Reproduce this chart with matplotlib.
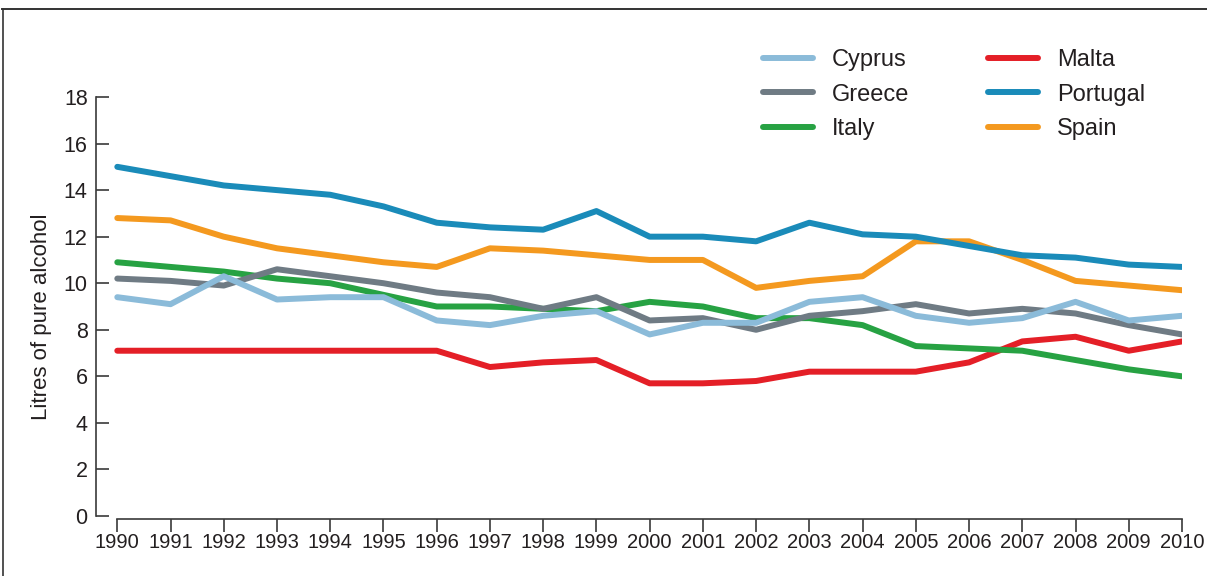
"""
Consumo de alcohol puro por adulto (litros), países del sur de Europa 1990-2010.
"""

import matplotlib
matplotlib.use("Agg")
import matplotlib.pyplot as plt
from matplotlib.lines import Line2D

FONT = ["Liberation Sans", "DejaVu Sans"]
plt.rcParams["font.family"] = FONT

COLOR_INK = "#231f20"
COLOR_AXIS = "#3a3a3a"

years = list(range(1990, 2011))

cyprus = [9.4, 9.1, 10.3, 9.3, 9.4, 9.4, 8.4, 8.2, 8.6, 8.8, 7.8,
          8.3, 8.3, 9.2, 9.4, 8.6, 8.3, 8.5, 9.2, 8.4, 8.6]
greece = [10.2, 10.1, 9.9, 10.6, 10.3, 10.0, 9.6, 9.4, 8.9, 9.4, 8.4,
          8.5, 8.0, 8.6, 8.8, 9.1, 8.7, 8.9, 8.7, 8.2, 7.8]
italy = [10.9, 10.7, 10.5, 10.2, 10.0, 9.5, 9.0, 9.0, 8.9, 8.8, 9.2,
         9.0, 8.5, 8.5, 8.2, 7.3, 7.2, 7.1, 6.7, 6.3, 6.0]
malta = [7.1, 7.1, 7.1, 7.1, 7.1, 7.1, 7.1, 6.4, 6.6, 6.7, 5.7,
         5.7, 5.8, 6.2, 6.2, 6.2, 6.6, 7.5, 7.7, 7.1, 7.5]
portugal = [15.0, 14.6, 14.2, 14.0, 13.8, 13.3, 12.6, 12.4, 12.3, 13.1, 12.0,
            12.0, 11.8, 12.6, 12.1, 12.0, 11.6, 11.2, 11.1, 10.8, 10.7]
spain = [12.8, 12.7, 12.0, 11.5, 11.2, 10.9, 10.7, 11.5, 11.4, 11.2, 11.0,
         11.0, 9.8, 10.1, 10.3, 11.8, 11.8, 11.0, 10.1, 9.9, 9.7]

series = [
    ("Cyprus", cyprus, "#8bbbd9"),
    ("Greece", greece, "#6f7b84"),
    ("Italy", italy, "#27a243"),
    ("Malta", malta, "#e41f27"),
    ("Portugal", portugal, "#1a8bb9"),
    ("Spain", spain, "#f4991f"),
]
# orden de dibujo (de atrás hacia adelante) según la figura original
draw_order = ["Malta", "Italy", "Greece", "Cyprus", "Spain", "Portugal"]

W, H = 1207, 576
fig = plt.figure(figsize=(W / 100, H / 100), dpi=100)
ax = fig.add_axes([96 / W, (H - 516) / H, 1086 / W, 419 / H])

lookup = {name: (vals, col) for name, vals, col in series}
for name in draw_order:
    vals, col = lookup[name]
    ax.plot(years, vals, color=col, lw=4.3, solid_capstyle="round",
            solid_joinstyle="round", zorder=3)

ax.set_xlim(1989.6, 2010.0)
ax.set_ylim(0, 18)
ax.set_xticks(years)
ax.set_xticklabels([str(y) for y in years])
ax.set_yticks(range(0, 19, 2))

for side in ["top", "right"]:
    ax.spines[side].set_visible(False)
ax.spines["left"].set_bounds(0, 18)
ax.spines["bottom"].set_bounds(1990, 2010)
ax.spines["bottom"].set_position(("outward", 2))
for side in ["left", "bottom"]:
    ax.spines[side].set_color(COLOR_AXIS)
    ax.spines[side].set_linewidth(1.2)
for sp in ax.spines.values():
    sp.set_clip_on(False)

ax.tick_params(axis="y", direction="in", length=9, width=1.2, color=COLOR_AXIS,
               labelsize=15.5, labelcolor=COLOR_INK, pad=6)
ax.tick_params(axis="x", direction="out", length=9, width=1.2, color=COLOR_AXIS,
               labelsize=14.5, labelcolor=COLOR_INK, pad=1.5)

ax.set_ylabel("Litres of pure alcohol", fontsize=16, color=COLOR_INK, va="center")
ax.yaxis.set_label_coords((42 - 96) / 1086, (516 - 317) / 419)

handles = [Line2D([0], [0], color=col, lw=4.3, solid_capstyle="round")
           for _, _, col in series]
labels = [name for name, _, _ in series]
leg = ax.legend(handles, labels, ncol=2, frameon=False, fontsize=17,
                handlelength=2.12, handletextpad=0.8, columnspacing=3.35,
                labelspacing=0.53, loc="upper left",
                bbox_to_anchor=((763 - 96) / 1086, (516 - 49) / 419),
                borderaxespad=0, borderpad=0)
for t in leg.get_texts():
    t.set_color(COLOR_INK)

# marco exterior de la figura
fig.add_artist(Line2D([2 / W, 1.0], [1 - 9 / H, 1 - 9 / H], color="#333333", lw=1.4,
                      transform=fig.transFigure))
fig.add_artist(Line2D([2.5 / W, 2.5 / W], [0, 1 - 9 / H], color="#333333", lw=1.2,
                      transform=fig.transFigure))

fig.savefig("out.png", dpi=100)
